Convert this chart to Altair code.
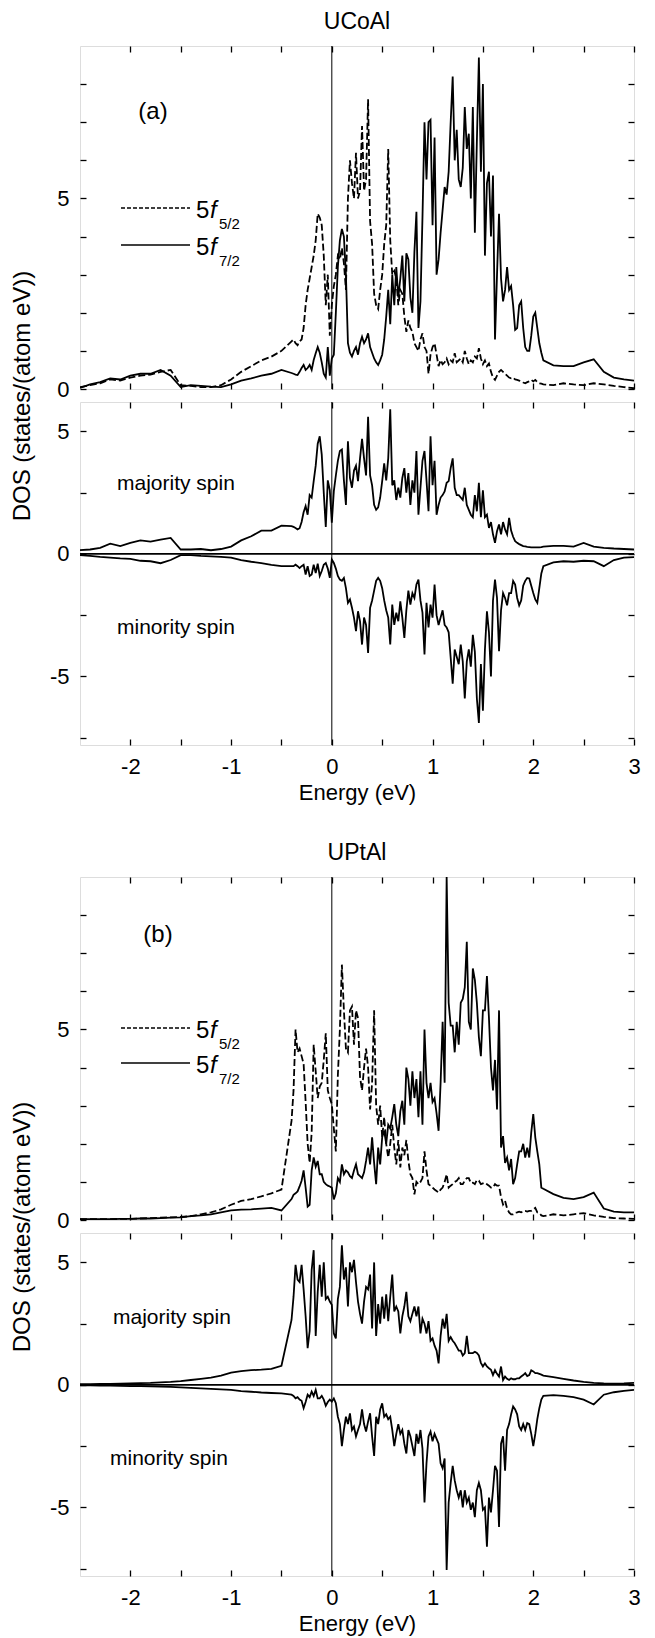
import altair as alt
import pandas as pd

FONT = "Liberation Sans"
W, H = 554, 343

# ---------------- energy grid (eV) ----------------
E_LEFT = [-2.5, -2.4, -2.3, -2.2, -2.1, -2.0, -1.9, -1.8, -1.7, -1.6, -1.5,
          -1.4, -1.3, -1.2, -1.1, -1.0, -0.9, -0.8, -0.7, -0.6, -0.5]
E_CORE = [round(-0.4 + 0.02 * i, 3) for i in range(125)]
E_RIGHT = [2.1, 2.2, 2.3, 2.4, 2.5, 2.6, 2.7, 2.8, 2.9, 3.0]
ENERGY = E_LEFT + E_CORE + E_RIGHT

# ---------------- (a) UCoAl : 5f5/2 (dashed) ----------------
A_F52 = ([0.05, 0.1, 0.15, 0.25, 0.22, 0.3, 0.35, 0.38, 0.45, 0.5, 0.1, 0.08, 0.05, 0.05, 0.1, 0.25, 0.45, 0.6, 0.75, 0.85, 1.0]
         + [1.25, 1.3, 1.2, 1.15, 1.25, 1.3, 1.6, 2.2, 2.6, 2.9,
            3.2, 3.5, 3.9, 4.6, 4.5, 4.3, 3.5, 2.2, 3.0, 1.4,
            2.2, 2.7, 3.0, 3.5, 3.4, 3.7, 3.3, 2.6, 5.0, 6.0,
            5.4, 5.0, 6.2, 5.0, 5.2, 6.9, 5.2, 5.5, 7.6, 4.4,
            3.8, 2.5, 2.2, 2.1, 2.6, 3.0, 3.8, 4.3, 6.3, 3.9,
            3.0, 3.1, 2.9, 2.2, 2.6, 2.5, 1.9, 1.5, 1.8, 1.6,
            1.5, 1.2, 1.1, 1.0, 1.3, 1.46, 1.1, 1.0, 0.4, 0.9,
            1.1, 1.2, 0.9, 0.6, 0.76, 0.65, 0.7, 0.8, 0.65, 0.75,
            0.7, 0.94, 0.7, 0.75, 0.8, 0.7, 1.0, 0.8, 0.65, 0.75,
            0.7, 0.85, 0.8, 1.07, 0.8, 0.65, 0.75, 0.6, 0.67, 0.45,
            0.3, 0.24, 0.35, 0.45, 0.5, 0.45, 0.4, 0.35, 0.3, 0.28,
            0.3, 0.25, 0.24, 0.22, 0.2, 0.17, 0.15, 0.18, 0.2, 0.24,
            0.2, 0.24, 0.18, 0.15, 0.14]
         + [0.12, 0.1, 0.15, 0.12, 0.1, 0.15, 0.12, 0.08, 0.05, 0.02])

# ---------------- (a) UCoAl : 5f7/2 (solid) ----------------
A_F72 = ([0.03, 0.12, 0.18, 0.28, 0.25, 0.35, 0.4, 0.4, 0.5, 0.35, 0.05, 0.1, 0.08, 0.06, 0.05, 0.12, 0.22, 0.28, 0.35, 0.4, 0.5]
         + [0.42, 0.4, 0.38, 0.37, 0.45, 0.55, 0.63, 0.5, 0.55, 0.63,
            0.5, 0.76, 0.94, 1.1, 0.95, 0.7, 0.4, 0.3, 1.1, 0.35,
            0.8, 0.9, 2.0, 3.2, 3.9, 4.2, 4.0, 3.0, 1.2, 0.95,
            0.85, 1.0, 1.1, 0.9, 1.2, 1.37, 1.2, 1.3, 1.46, 1.1,
            0.95, 0.8, 0.7, 0.63, 0.75, 0.9, 1.3, 1.9, 2.6, 1.7,
            3.0, 2.2, 3.2, 2.4, 2.9, 3.5, 2.3, 3.56, 3.4, 2.4,
            2.0, 3.6, 4.65, 1.6, 2.3, 4.5, 7.0, 5.5, 7.0, 7.06,
            4.3, 6.6, 3.0, 3.4, 4.1, 4.7, 5.3, 5.1, 5.7, 7.0,
            8.2, 6.0, 6.8, 5.5, 5.3, 5.8, 7.4, 6.3, 6.7, 5.0,
            7.4, 4.1, 6.5, 8.7, 5.7, 8.0, 3.5, 5.4, 5.7, 4.0,
            5.6, 1.3, 3.0, 4.6, 2.9, 2.3, 2.6, 3.2, 2.6, 2.7,
            2.2, 1.55, 1.6, 2.2, 2.3, 1.6, 1.1, 1.0, 1.0, 1.4,
            1.9, 2.0, 1.6, 1.2, 0.95]
         + [0.75, 0.62, 0.6, 0.6, 0.7, 0.78, 0.45, 0.3, 0.25, 0.22])

# ---------------- (a) UCoAl : majority spin ----------------
A_MAJ = ([0.15, 0.18, 0.25, 0.42, 0.32, 0.45, 0.55, 0.5, 0.58, 0.65, 0.18, 0.18, 0.2, 0.15, 0.2, 0.3, 0.55, 0.72, 0.95, 0.95, 1.15]
         + [1.13, 1.1, 1.06, 1.0, 1.05, 1.3, 1.7, 1.95, 1.6, 2.4,
            2.3, 2.97, 3.6, 4.5, 4.8, 4.05, 2.5, 1.1, 3.0, 2.6,
            1.27, 2.56, 3.2, 3.8, 4.2, 4.26, 3.0, 2.0, 4.6, 3.1,
            2.7, 3.4, 3.6, 2.97, 3.9, 4.7, 3.9, 3.2, 5.6, 3.2,
            2.8, 2.0, 1.8, 1.9, 2.3, 2.97, 3.7, 3.0, 3.9, 5.9,
            2.8, 3.0, 2.2, 2.7, 2.3, 3.1, 3.5, 2.5, 3.3, 2.0,
            3.0, 2.5, 4.2, 1.6, 2.7, 3.8, 4.2, 3.0, 1.74, 4.8,
            2.8, 3.8, 1.6, 2.0, 2.3, 2.4, 2.55, 2.9, 2.97, 3.5,
            3.9, 2.7, 2.4, 2.4, 2.3, 2.2, 2.7, 2.0, 1.8, 1.6,
            1.5, 2.4, 1.74, 2.9, 1.5, 2.6, 1.5, 1.6, 1.06, 1.3,
            0.8, 0.45, 0.93, 1.2, 0.8, 1.3, 1.0, 0.8, 1.47, 0.95,
            0.7, 0.52, 0.45, 0.4, 0.36, 0.32, 0.31, 0.29, 0.28, 0.27,
            0.27, 0.27, 0.27, 0.27, 0.28]
         + [0.3, 0.33, 0.33, 0.3, 0.45, 0.3, 0.25, 0.22, 0.2, 0.18])

# ---------------- (a) UCoAl : minority spin ----------------
A_MIN = ([-0.05, -0.08, -0.12, -0.15, -0.18, -0.2, -0.28, -0.3, -0.38, -0.25, -0.05, -0.05, -0.08, -0.1, -0.12, -0.15, -0.25, -0.32, -0.38, -0.45, -0.5]
         + [-0.5, -0.5, -0.44, -0.5, -0.58, -0.5, -0.44, -0.84, -0.5, -0.9,
            -0.84, -0.44, -0.78, -0.4, -0.9, -0.7, -0.44, -0.37, -0.6, -0.98,
            -0.23, -0.37, -0.6, -0.9, -1.05, -1.1, -0.98, -1.4, -2.0, -1.86,
            -2.2, -2.6, -3.15, -2.34, -2.75, -3.7, -2.6, -2.9, -4.04, -2.2,
            -1.9, -1.5, -1.1, -0.98, -1.1, -1.4, -1.9, -2.3, -2.6, -3.7,
            -2.07, -2.9, -2.4, -2.75, -1.94, -2.6, -3.43, -2.3, -1.5, -2.07,
            -1.6, -1.8, -1.25, -1.05, -1.9, -2.4, -4.1, -2.0, -3.0, -2.07,
            -2.6, -1.25, -2.5, -2.9, -2.6, -2.3, -2.9, -3.0, -3.2, -4.24,
            -5.3, -3.9, -4.2, -4.5, -3.7, -4.4, -5.9, -4.4, -3.9, -4.6,
            -3.3, -4.0, -5.9, -6.9, -4.5, -6.4, -3.9, -2.34, -3.2, -5.0,
            -1.9, -1.05, -1.8, -3.97, -2.3, -1.6, -1.8, -2.1, -1.6, -1.6,
            -1.1, -1.25, -1.8, -2.1, -1.9, -1.3, -1.1, -0.98, -1.0, -1.3,
            -1.6, -1.86, -2.0, -1.4, -0.8]
         + [-0.5, -0.35, -0.3, -0.32, -0.28, -0.3, -0.5, -0.25, -0.15, -0.13])

# ---------------- (b) UPtAl : 5f5/2 (dashed) ----------------
B_F52 = ([0.02, 0.02, 0.02, 0.02, 0.03, 0.03, 0.04, 0.05, 0.06, 0.07, 0.08, 0.1, 0.15, 0.2, 0.28, 0.4, 0.5, 0.55, 0.62, 0.7, 0.8]
         + [2.6, 3.4, 5.0, 4.4, 4.5, 4.3, 4.1, 3.1, 2.0, 1.5,
            2.3, 4.6, 3.9, 3.2, 3.5, 3.6, 4.2, 4.9, 3.4, 3.2,
            3.04, 2.4, 1.8, 3.8, 5.0, 6.7, 5.5, 4.5, 4.4, 5.5,
            5.6, 4.6, 5.5, 5.3, 3.75, 3.4, 4.0, 4.5, 4.0, 2.9,
            3.6, 5.5, 3.0, 2.5, 3.0, 2.17, 2.7, 2.0, 1.64, 2.0,
            2.5, 1.9, 1.46, 2.1, 1.38, 1.9, 1.7, 2.1, 1.55, 1.2,
            1.1, 0.67, 1.0, 0.94, 1.0, 1.1, 1.8, 1.3, 0.94, 0.9,
            0.85, 0.8, 0.76, 0.72, 0.8, 0.85, 1.0, 1.2, 0.85, 0.9,
            0.94, 1.0, 1.03, 1.1, 0.94, 0.94, 1.03, 1.1, 1.1, 0.97,
            0.98, 0.94, 1.05, 1.03, 0.94, 0.96, 0.98, 0.94, 0.9, 0.85,
            0.85, 0.94, 0.9, 0.9, 0.6, 0.41, 0.5, 0.3, 0.2, 0.15,
            0.15, 0.19, 0.2, 0.22, 0.2, 0.22, 0.24, 0.22, 0.24, 0.24,
            0.28, 0.32, 0.2, 0.18, 0.12]
         + [0.1, 0.15, 0.12, 0.15, 0.18, 0.12, 0.08, 0.05, 0.04, 0.03])

# ---------------- (b) UPtAl : 5f7/2 (solid) ----------------
B_F72 = ([0.02, 0.02, 0.02, 0.02, 0.03, 0.03, 0.04, 0.04, 0.05, 0.06, 0.07, 0.1, 0.12, 0.15, 0.2, 0.25, 0.27, 0.28, 0.3, 0.32, 0.25]
         + [0.55, 0.66, 0.7, 0.75, 0.88, 1.03, 1.3, 0.85, 0.35, 0.4,
            1.3, 1.64, 1.4, 1.55, 1.2, 1.2, 1.0, 0.94, 0.9, 0.88,
            0.85, 0.54, 0.7, 1.1, 1.0, 1.46, 1.2, 1.3, 1.25, 1.15,
            1.1, 1.3, 1.46, 1.2, 1.15, 1.1, 1.25, 1.55, 1.9, 1.46,
            2.17, 1.5, 0.94, 1.9, 1.46, 2.17, 2.34, 2.0, 2.5, 2.4,
            2.7, 3.04, 2.5, 2.2, 2.85, 3.13, 2.5, 4.0, 3.7, 3.0,
            3.9, 3.2, 3.7, 2.7, 3.9, 2.5, 5.0, 3.6, 3.2, 3.6,
            3.1, 3.2, 2.8, 2.34, 3.6, 5.2, 3.6, 9.0, 5.7, 5.1,
            5.1, 4.4, 5.2, 4.6, 5.7, 5.8, 6.1, 7.3, 5.2, 5.0,
            6.6, 6.3, 5.7, 4.8, 4.3, 5.5, 5.5, 6.4, 5.3, 4.0,
            3.4, 4.2, 2.9, 5.5, 1.9, 2.2, 1.5, 1.64, 1.3, 1.6,
            0.94, 1.1, 1.46, 1.8, 1.8, 2.0, 1.64, 1.9, 1.64, 2.3,
            2.78, 2.17, 1.8, 1.46, 0.85]
         + [0.82, 0.68, 0.58, 0.55, 0.6, 0.72, 0.3, 0.22, 0.2, 0.2])

# ---------------- (b) UPtAl : majority spin ----------------
B_MAJ = ([0.03, 0.03, 0.04, 0.04, 0.05, 0.06, 0.07, 0.08, 0.1, 0.12, 0.15, 0.2, 0.25, 0.3, 0.38, 0.5, 0.56, 0.6, 0.62, 0.65, 0.78]
         + [2.65, 3.6, 4.9, 4.3, 4.2, 4.9, 3.9, 2.8, 1.5, 2.2,
            4.7, 5.5, 2.0, 3.8, 4.9, 3.6, 5.0, 3.5, 3.6, 3.4,
            3.27, 2.1, 1.9, 3.5, 4.0, 5.7, 4.3, 4.8, 3.2, 5.0,
            4.6, 5.1, 4.2, 3.4, 2.9, 2.5, 3.4, 4.0, 3.9, 4.5,
            2.3, 5.0, 2.0, 3.3, 2.5, 3.6, 2.7, 3.7, 2.6, 3.6,
            4.5, 3.0, 3.2, 3.0, 2.1, 2.8, 3.2, 3.8, 2.8, 2.6,
            2.9, 3.2, 2.8, 3.2, 2.1, 2.7, 2.5, 2.1, 2.6, 1.8,
            1.9, 1.6, 1.4, 0.88, 2.0, 2.7, 2.3, 2.9, 1.8, 1.95,
            1.8, 1.7, 1.55, 1.4, 1.4, 1.2, 1.3, 2.0, 1.3, 1.3,
            1.3, 1.35, 1.3, 1.2, 0.9, 0.75, 0.88, 0.75, 0.68, 0.62,
            0.4, 0.6, 0.45, 0.34, 0.75, 0.2, 0.34, 0.25, 0.2, 0.27,
            0.23, 0.23, 0.27, 0.27, 0.34, 0.4, 0.48, 0.36, 0.4, 0.6,
            0.55, 0.48, 0.48, 0.45, 0.42]
         + [0.38, 0.32, 0.25, 0.18, 0.12, 0.08, 0.06, 0.05, 0.06, 0.08])

# ---------------- (b) UPtAl : minority spin ----------------
B_MIN = ([-0.02, -0.02, -0.03, -0.03, -0.04, -0.05, -0.05, -0.06, -0.07, -0.08, -0.1, -0.12, -0.14, -0.16, -0.18, -0.2, -0.25, -0.28, -0.31, -0.33, -0.35]
         + [-0.4, -0.45, -0.55, -0.5, -0.6, -0.65, -0.95, -0.7, -0.4, -0.5,
            -0.27, -0.45, -0.2, -0.55, -0.55, -0.45, -0.6, -0.85, -0.7, -0.6,
            -0.68, -0.55, -0.75, -1.3, -1.6, -2.5, -1.84, -1.3, -1.6, -1.16,
            -1.84, -1.7, -2.1, -1.84, -1.6, -1.0, -1.6, -1.9, -1.5, -1.16,
            -2.1, -2.9, -1.3, -1.6, -1.0, -0.75, -1.3, -1.2, -1.4, -1.3,
            -1.84, -2.5, -2.0, -1.6, -2.0, -1.84, -2.4, -2.8, -1.84, -2.1,
            -2.5, -2.9, -2.0, -2.4, -1.84, -2.6, -4.8, -3.2, -2.1, -1.9,
            -2.3, -2.0, -2.2, -2.4, -3.2, -3.4, -3.0, -7.55, -4.8, -4.0,
            -3.3, -3.9, -4.3, -4.6, -4.3, -5.0, -4.3, -4.8, -4.6, -5.1,
            -4.8, -5.4, -4.3, -4.0, -4.3, -5.1, -5.0, -6.6, -4.6, -5.2,
            -4.3, -3.3, -3.5, -5.8, -2.4, -2.1, -3.5, -1.84, -1.6, -1.2,
            -0.88, -1.0, -1.2, -1.7, -1.84, -1.6, -1.84, -1.56, -1.6, -2.0,
            -2.5, -2.0, -1.4, -0.95, -0.6]
         + [-0.45, -0.42, -0.45, -0.5, -0.6, -0.8, -0.4, -0.3, -0.24, -0.2])

# ---------------- ticks ----------------
X_TICKS = [-2.0, -1.5, -1.0, -0.5, 0.0, 0.5, 1.0, 1.5, 2.0, 2.5, 3.0]
Y_TICKS_TOP = [0, 1, 2, 3, 4, 5, 6, 7, 8]
Y_TICKS_BOT = [-7.5, -5.0, -2.5, 0.0, 2.5, 5.0]
X_DOMAIN = [-2.5, 3.0]
Y_DOMAIN_TOP = [0, 9]
Y_DOMAIN_BOT = [-7.8, 6.2]

ONE = pd.DataFrame({"k": [0]})
ZERO_E = pd.DataFrame({"energy": [0.0]})
ZERO_D = pd.DataFrame({"dos": [0.0]})

LW = 1.8
BASE_AXIS = dict(offset=-6, tickSize=6, tickWidth=1.3, tickColor="black", domain=False,
                 grid=False, minExtent=0, maxExtent=200, title=None)


def xaxis_main(with_labels):
    kw = dict(BASE_AXIS, values=X_TICKS, orient="bottom")
    if with_labels:
        kw.update(labels=True, labelExpr="datum.value % 1 == 0 ? '' + datum.value : ''",
                  labelFontSize=22, labelFont=FONT, labelColor="black", labelPadding=11,
                  labelFlush=False, labelOverlap=False, labelBound=False,
                  title="Energy (eV)", titleFontSize=22, titleFont=FONT,
                  titleFontWeight="normal", titleColor="black",
                  titleY=60, titleBaseline="alphabetic")
    else:
        kw.update(labels=False)
    return alt.Axis(**kw)


def xaxis_top():
    return alt.Axis(**dict(BASE_AXIS, values=X_TICKS, orient="top", labels=False))


def yaxis_main(ticks, expr, with_title):
    kw = dict(BASE_AXIS, values=ticks, orient="left", labelExpr=expr,
              labelFontSize=22, labelFont=FONT, labelColor="black", labelPadding=11,
              labelOverlap=False, labelFlush=False, labelBound=False)
    if with_title:
        kw.update(title="DOS (states/(atom eV))", titleFontSize=24, titleFont=FONT,
                  titleFontWeight="normal", titleColor="black", titleAngle=270,
                  titleX=-64, titleY=H + 6.5, titleBaseline="middle", titleAlign="center")
    return alt.Axis(**kw)


def yaxis_right(ticks):
    return alt.Axis(**dict(BASE_AXIS, values=ticks, orient="right", labels=False))


def text_layer(txt, px, py, size, align="left", baseline="middle", style="normal"):
    return alt.Chart(ONE).mark_text(
        font=FONT, fontSize=size, align=align, baseline=baseline, fontStyle=style, color="black"
    ).encode(x=alt.value(px), y=alt.value(py), text=alt.value(txt))


def dos_panel(main_vals, other_vals, other_dashed, ydom, yticks, yexpr,
              with_xlabels, with_ytitle, extra_layers):
    xs = alt.Scale(domain=X_DOMAIN, nice=False, zero=False)
    ys = alt.Scale(domain=ydom, nice=False, zero=False)
    df_main = pd.DataFrame({"energy": ENERGY, "dos": main_vals})
    df_other = pd.DataFrame({"energy": ENERGY, "dos": other_vals})

    main = alt.Chart(df_main).mark_line(color="black", strokeWidth=LW, clip=True).encode(
        x=alt.X("energy:Q", scale=xs, axis=xaxis_main(with_xlabels)),
        y=alt.Y("dos:Q", scale=ys, axis=yaxis_main(yticks, yexpr, with_ytitle)),
    )
    other_kw = dict(color="black", strokeWidth=LW, clip=True)
    if other_dashed:
        other_kw["strokeDash"] = [7, 3]
    other = alt.Chart(df_other).mark_line(**other_kw).encode(
        x=alt.X("energy:Q", scale=xs, axis=xaxis_top()),
        y=alt.Y("dos:Q", scale=ys, axis=yaxis_right(yticks)),
    )
    vline = alt.Chart(ZERO_E).mark_rule(color="black", strokeWidth=1).encode(
        x=alt.X("energy:Q", scale=xs, axis=None)
    )
    layers = [vline]
    if not other_dashed:
        hline = alt.Chart(ZERO_D).mark_rule(color="black", strokeWidth=1.6).encode(
            y=alt.Y("dos:Q", scale=ys, axis=None)
        )
        layers.append(hline)
    layers += [main, other] + extra_layers
    return alt.layer(*layers).properties(width=W, height=H)


def legend_layers(y1, y2):
    out = [
        alt.Chart(ONE).mark_rule(color="black", strokeWidth=1.5, strokeDash=[4, 2]).encode(
            x=alt.value(41), x2=alt.value(110), y=alt.value(y1)),
        alt.Chart(ONE).mark_rule(color="black", strokeWidth=1.7).encode(
            x=alt.value(41), x2=alt.value(110), y=alt.value(y2)),
    ]
    for yy, sub in ((y1, "5/2"), (y2, "7/2")):
        out.append(text_layer("5", 116, yy + 10, 24, baseline="alphabetic"))
        out.append(text_layer("f", 130, yy + 10, 24, baseline="alphabetic", style="italic"))
        out.append(text_layer(sub, 139, yy + 21, 15, baseline="alphabetic"))
    return out


Y_EXPR_TOP = "datum.value == 0 || datum.value == 5 ? '' + datum.value : ''"
Y_EXPR_BOT = "datum.value % 5 == 0 ? '' + datum.value : ''"

a_up = dos_panel(A_F72, A_F52, True, Y_DOMAIN_TOP, Y_TICKS_TOP, Y_EXPR_TOP, False, True,
                 [text_layer("UCoAl", W / 2, -17.5, 23, align="center", baseline="alphabetic"),
                  text_layer("(a)", 73, 66, 24, align="center")] + legend_layers(162, 199))
a_lo = dos_panel(A_MAJ, A_MIN, False, Y_DOMAIN_BOT, Y_TICKS_BOT, Y_EXPR_BOT, True, False,
                 [text_layer("majority spin", 37, 82, 21),
                  text_layer("minority spin", 37, 226, 21)])
b_up = dos_panel(B_F72, B_F52, True, Y_DOMAIN_TOP, Y_TICKS_TOP, Y_EXPR_TOP, False, True,
                 [text_layer("UPtAl", W / 2, -17, 23, align="center", baseline="alphabetic"),
                  text_layer("(b)", 78, 58, 24, align="center")] + legend_layers(151, 186))
b_lo = dos_panel(B_MAJ, B_MIN, False, Y_DOMAIN_BOT, Y_TICKS_BOT, Y_EXPR_BOT, True, False,
                 [text_layer("majority spin", 33, 85, 21),
                  text_layer("minority spin", 30, 226, 21)])

spacer = alt.Chart(ONE).mark_point(opacity=0).encode(
    x=alt.X("k:Q", axis=None), y=alt.Y("k:Q", axis=None)
).properties(width=W, height=106, view=alt.ViewBackground(stroke="transparent"))

chart = alt.vconcat(a_up, a_lo, spacer, b_up, b_lo, spacing=13, bounds="flush").properties(
    padding={"left": 9, "top": 10, "right": 5, "bottom": 5}
).configure_view(stroke="black", strokeWidth=1.5).configure(background="white")

chart.save("out.html", embed_options={"renderer": "svg", "actions": False})
